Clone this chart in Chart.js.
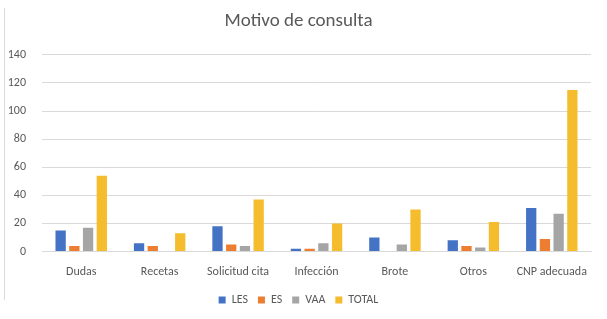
<!DOCTYPE html>
<html><head><meta charset="utf-8">
<script src="https://cdn.jsdelivr.net/npm/chart.js@4/dist/chart.umd.min.js"></script>
<style>
html,body{margin:0;padding:0;background:#fff;}
#wrap{position:relative;width:607px;height:319px;}
#frame{position:absolute;left:4px;top:8px;width:0;height:292px;border-left:1px solid #d9d9d9;}
</style></head>
<body><div id="wrap"><div id="frame"></div><canvas id="c" width="607" height="319"></canvas></div>
<script>
const categories = ["Dudas","Recetas","Solicitud cita","Infección","Brote","Otros","CNP adecuada"];
const les   = [15, 6, 18, 2, 10, 8, 31];
const es    = [4, 4, 5, 2, 0, 4, 9];
const vaa   = [17, 0, 4, 6, 5, 3, 27];
const total = [54, 13, 37, 20, 30, 21, 115];
const yTicks = [0,20,40,60,80,100,120,140];

const font = "Calibri, Carlito, 'Open Sans', 'Liberation Sans', sans-serif";
new Chart(document.getElementById('c'), {
  type: 'bar',
  data: {
    labels: categories,
    datasets: [
      {label:'LES', data: les, backgroundColor:'#4472C4'},
      {label:'ES', data: es, backgroundColor:'#ED7D31'},
      {label:'VAA', data: vaa, backgroundColor:'#A5A5A5'},
      {label:'TOTAL', data: total, backgroundColor:'#F5BD2E'}
    ]
  },
  options: {
    responsive:false, animation:false,
    layout:{padding:{left:6,right:16,top:8,bottom:3}},
    datasets:{bar:{barPercentage:0.75, categoryPercentage:0.7}},
    plugins:{
      title:{display:true,text:'Motivo de consulta',color:'#595959',font:{family:font,size:19,weight:'normal'},padding:{top:2,bottom:22}},
      legend:{position:'bottom',labels:{boxWidth:7,boxHeight:7,color:'#595959',font:{family:font,size:12},padding:10}},
      tooltip:{enabled:false}
    },
    scales:{
      x:{grid:{display:false},border:{color:'#d9d9d9'},ticks:{color:'#595959',font:{family:font,size:12},padding:5,maxRotation:0}},
      y:{min:0,max:140,afterBuildTicks:(s)=>{s.ticks=yTicks.map(v=>({value:v}));},
         afterFit:(s)=>{s.width=36;},
         grid:{color:'#d9d9d9',drawTicks:false},border:{display:false},
         ticks:{color:'#595959',font:{family:font,size:12},padding:16}}
    }
  }
});
</script></body></html>
